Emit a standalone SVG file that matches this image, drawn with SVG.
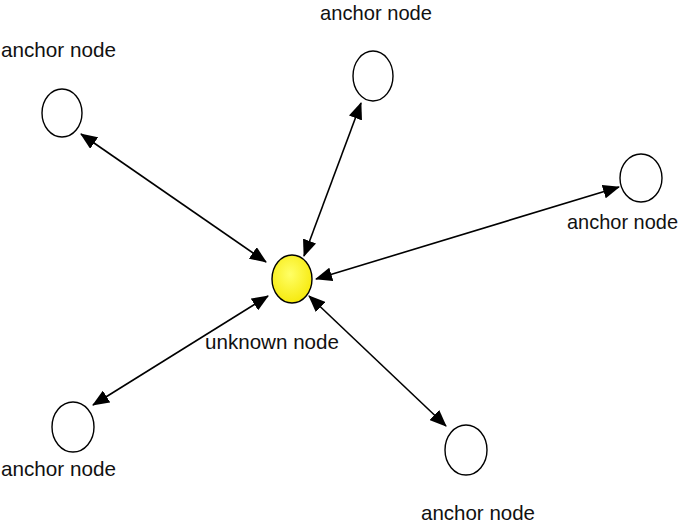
<svg xmlns="http://www.w3.org/2000/svg" width="685" height="524" viewBox="0 0 685 524">
<style>
.anchor{fill:#fff;stroke:#000;stroke-width:1.4}
.unknown{fill:url(#yg);stroke:#000;stroke-width:1.4}
.lbl{font-family:"Liberation Sans",Arial,sans-serif;font-size:21px;fill:#111}
.edge{stroke:#000;stroke-width:1.6;fill:none;marker-start:url(#ah);marker-end:url(#ah)}
</style>
<defs>
<radialGradient id="yg" cx="0.45" cy="0.4" r="0.7">
<stop offset="0" stop-color="#ffff66"/>
<stop offset="1" stop-color="#f5e600"/>
</radialGradient>
<marker id="ah" markerUnits="userSpaceOnUse" markerWidth="17" markerHeight="14" refX="16" refY="7" orient="auto-start-reverse" viewBox="0 0 17 14">
<path d="M0,0 L17,7 L0,14 Z" fill="#000"/>
</marker>
</defs>
<g id="connectors">
<line class="edge" x1="81" y1="134" x2="266" y2="262"/>
<line class="edge" x1="361" y1="103" x2="304" y2="256"/>
<line class="edge" x1="619" y1="187" x2="316" y2="279"/>
<line class="edge" x1="93" y1="405" x2="268" y2="296"/>
<line class="edge" x1="446" y1="426" x2="309" y2="296"/>
</g>
<g id="anchor-top-left">
<ellipse class="anchor" cx="62" cy="113" rx="20" ry="24"/>
<text class="lbl" x="1" y="57" textLength="115" lengthAdjust="spacingAndGlyphs">anchor node</text>
</g>
<g id="anchor-top">
<ellipse class="anchor" cx="373" cy="76" rx="20" ry="25"/>
<text class="lbl" x="320" y="20" textLength="112" lengthAdjust="spacingAndGlyphs">anchor node</text>
</g>
<g id="anchor-right">
<ellipse class="anchor" cx="641" cy="178" rx="21" ry="24"/>
<text class="lbl" x="567" y="229" textLength="111" lengthAdjust="spacingAndGlyphs">anchor node</text>
</g>
<g id="anchor-bottom-left">
<ellipse class="anchor" cx="73" cy="427" rx="21" ry="25"/>
<text class="lbl" x="1" y="476" textLength="115" lengthAdjust="spacingAndGlyphs">anchor node</text>
</g>
<g id="anchor-bottom-right">
<ellipse class="anchor" cx="466" cy="450" rx="21" ry="25"/>
<text class="lbl" x="421" y="520" textLength="114" lengthAdjust="spacingAndGlyphs">anchor node</text>
</g>
<g id="unknown-node">
<ellipse class="unknown" cx="292" cy="279" rx="20" ry="24"/>
<text class="lbl" x="205" y="349" textLength="134" lengthAdjust="spacingAndGlyphs">unknown node</text>
</g>
</svg>
